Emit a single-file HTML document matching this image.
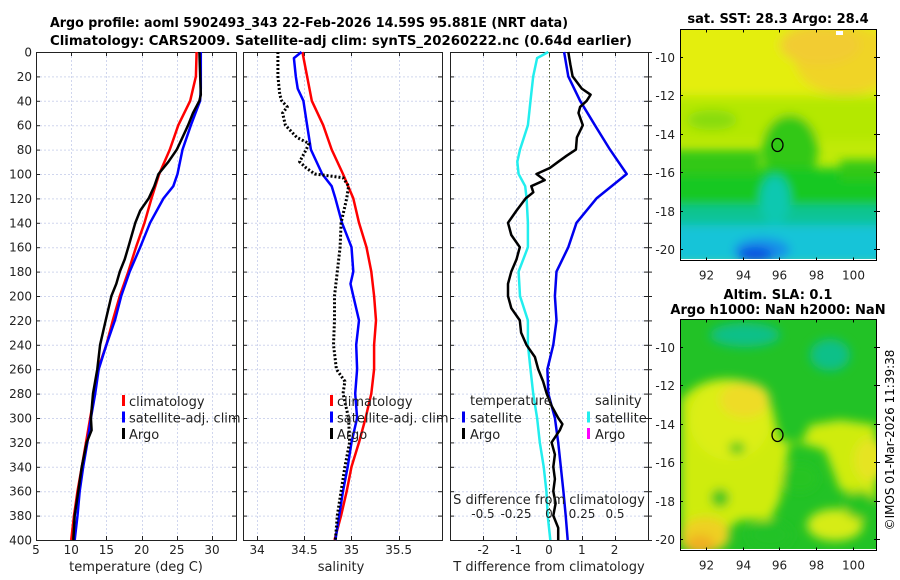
<!DOCTYPE html>
<html><head><meta charset="utf-8">
<style>
html,body{margin:0;padding:0;background:#fff;}
svg{display:block;font-family:"DejaVu Sans","Liberation Sans",sans-serif;}
</style></head>
<body>
<svg id="fig" width="900" height="580" viewBox="0 0 900 580" xmlns="http://www.w3.org/2000/svg">
<defs>
  <filter id="blur1" x="-20%" y="-20%" width="140%" height="140%"><feGaussianBlur stdDeviation="5"/></filter>
  <filter id="blur2" x="-20%" y="-20%" width="140%" height="140%"><feGaussianBlur stdDeviation="5"/></filter>
  <clipPath id="clipMap1"><rect x="681" y="30" width="195" height="229"/></clipPath>
  <clipPath id="clipMap2"><rect x="681" y="320" width="195" height="229"/></clipPath>
</defs>
<text x="50" y="27" font-size="13" font-weight="bold" textLength="518" lengthAdjust="spacingAndGlyphs">Argo profile: aoml 5902493_343 22-Feb-2026 14.59S 95.881E (NRT data)</text>
<text x="50" y="45" font-size="13" font-weight="bold" textLength="582" lengthAdjust="spacingAndGlyphs">Climatology: CARS2009. Satellite-adj clim: synTS_20260222.nc (0.64d earlier)</text>

<!-- Map 1 -->
<g>
  <text x="778" y="23" font-size="13" font-weight="bold" text-anchor="middle">sat. SST: 28.3 Argo: 28.4</text>
  <g clip-path="url(#clipMap1)">
    <rect x="681" y="30" width="195" height="229" fill="#c0ea08"/>
    <g filter="url(#blur2)">
      <rect x="670" y="20" width="220" height="75" fill="#e4ee10"/>
      <ellipse cx="845" cy="60" rx="50" ry="35" fill="#f0d428"/>
      <ellipse cx="820" cy="45" rx="40" ry="20" fill="#f2cc30"/>
      <rect x="670" y="100" width="220" height="40" fill="#b4e806"/>
      <ellipse cx="712" cy="120" rx="25" ry="10" fill="#88dc10"/>
      <ellipse cx="790" cy="150" rx="28" ry="35" fill="#30c818"/>
      <rect x="670" y="168" width="220" height="42" fill="#14c820"/>
      <rect x="670" y="150" width="90" height="25" fill="#30c818"/>
      <rect x="840" y="160" width="50" height="20" fill="#30c818"/>
      <rect x="670" y="205" width="220" height="25" fill="#10c494"/>
      <rect x="670" y="225" width="220" height="40" fill="#18c4d8"/>
      <ellipse cx="775" cy="200" rx="15" ry="25" fill="#10c8b0"/>
      <ellipse cx="762" cy="250" rx="28" ry="12" fill="#1890e8"/>
      <ellipse cx="755" cy="255" rx="18" ry="8" fill="#1050e0"/>
    </g>
    <rect x="836" y="31" width="7" height="4" fill="#fff"/>
  </g>
  <rect x="680.5" y="29.5" width="196" height="231" fill="none" stroke="#000" stroke-width="1"/>
  <ellipse cx="777.5" cy="145" rx="5.5" ry="6.5" fill="none" stroke="#000" stroke-width="1.3"/>
  <g id="map1ticks"></g>
</g>

<!-- Map 2 -->
<g>
  <text x="778" y="299" font-size="13" font-weight="bold" text-anchor="middle">Altim. SLA: 0.1</text>
  <text x="778" y="314" font-size="13" font-weight="bold" text-anchor="middle">Argo h1000: NaN h2000: NaN</text>
  <g clip-path="url(#clipMap2)">
    <rect x="681" y="320" width="195" height="229" fill="#22c226"/>
    <g filter="url(#blur1)">
      <ellipse cx="745" cy="335" rx="35" ry="12" fill="#10c088"/>
      <ellipse cx="830" cy="355" rx="20" ry="16" fill="#10c088"/>
      <path d="M681,400 Q700,375 740,380 Q770,385 775,420 L780,440 L800,445 L810,425 L840,420 L876,425 L876,500 L840,490 L825,450 L790,440 L780,500 L770,520 L740,520 L720,535 L700,549 L681,549 Z" fill="#cfec10"/>
      <ellipse cx="730" cy="420" rx="40" ry="40" fill="#dcee18"/>
      <ellipse cx="745" cy="400" rx="25" ry="18" fill="#eedc28"/>
      <ellipse cx="870" cy="460" rx="16" ry="22" fill="#e6e424"/>
      <ellipse cx="835" cy="525" rx="28" ry="16" fill="#d6ec18"/>
      <ellipse cx="705" cy="535" rx="25" ry="18" fill="#eed020"/>
      <ellipse cx="700" cy="545" rx="15" ry="10" fill="#f0b020"/>
      <ellipse cx="737" cy="448" rx="8" ry="6" fill="#40c820"/>
      <ellipse cx="720" cy="498" rx="9" ry="9" fill="#30c422"/>
      <ellipse cx="800" cy="478" rx="18" ry="14" fill="#28c424"/>
      <ellipse cx="770" cy="535" rx="22" ry="14" fill="#22c226"/>
      <ellipse cx="860" cy="505" rx="16" ry="14" fill="#28c424"/>
    </g>
  </g>
  <rect x="680.5" y="319.5" width="196" height="231" fill="none" stroke="#000" stroke-width="1"/>
  <ellipse cx="777.5" cy="435" rx="5.5" ry="6.5" fill="none" stroke="#000" stroke-width="1.3"/>
  <g id="map2ticks"></g>
</g>
<text x="0" y="0" font-size="12" text-anchor="middle" transform="translate(894,440) rotate(-90)">©IMOS 01-Mar-2026 11:39:38</text>

<g id="panels"></g>
</svg>
<script>
// ---- data ----
var depthTicks = [0,20,40,60,80,100,120,140,160,180,200,220,240,260,280,300,320,340,360,380,400];
var tempTicks = [5,10,15,20,25,30];
var salTicks = [34,34.5,35,35.5];
var salTickLabels = ["34","34.5","35","35.5"];
var tdiffTicks = [-2,-1,0,1,2];
var sdiffTicks = [-0.5,-0.25,0,0.25,0.5];
var sdiffTickLabels = ["-0.5","-0.25","0","0.25","0.5"];
var lonTicks = [92,94,96,98,100];
var latTicks = [-10,-12,-14,-16,-18,-20];

var stdDepth = [0,20,40,60,80,100,120,140,160,180,200,220,240,260,280,300,320,340,360,380,400];
var tempClim = [27.8,27.7,26.9,25.2,24.0,22.5,21.4,20.4,19.2,18.1,16.9,15.9,15.0,13.8,13.3,12.7,12.1,11.5,10.9,10.4,10.0];
var tempSatDepth = [0,30,40,60,80,100,110,120,140,160,180,200,220,240,260,280,300,320,340,360,380,400];
var tempSat = [28.4,28.4,28.3,27.0,25.8,25.1,24.5,23.1,21.2,19.8,18.3,17.1,16.2,15.0,13.9,13.4,12.8,12.3,11.7,11.2,10.9,10.5];
var argoTDepth = [0,35,40,50,60,70,80,90,100,110,120,130,140,150,160,170,180,190,200,220,240,260,280,300,310,320,340,360,380,400];
var argoT = [28.2,28.4,28.2,27.3,26.6,25.8,25.0,23.8,22.4,21.8,21.0,19.8,19.1,18.6,18.1,17.6,16.9,16.4,15.7,14.9,14.1,13.7,13.1,12.8,12.9,12.2,11.5,11.0,10.5,10.3];

var salClim = [34.48,34.53,34.58,34.70,34.79,34.91,35.02,35.08,35.16,35.21,35.24,35.26,35.24,35.24,35.21,35.15,35.08,35.00,34.95,34.89,34.82];
var salSatDepth = [0,5,20,30,40,60,80,100,110,120,140,160,180,190,200,220,240,260,280,300,320,340,360,380,400];
var salSat = [34.47,34.39,34.41,34.43,34.49,34.53,34.57,34.69,34.79,34.83,34.90,35.00,35.02,34.99,35.02,35.08,35.05,35.06,35.04,35.06,35.00,34.96,34.91,34.87,34.83];
var argoSDepth = [0,20,35,40,45,50,60,70,75,80,90,95,100,103,110,120,140,160,180,200,220,240,260,270,280,300,320,340,360,380,400];
var argoS = [34.22,34.22,34.24,34.26,34.32,34.27,34.30,34.42,34.55,34.52,34.45,34.52,34.61,34.91,34.97,34.95,34.89,34.88,34.85,34.82,34.82,34.81,34.84,34.93,34.91,34.97,34.98,34.93,34.89,34.85,34.83];

var tdiffSat = [0.46,0.59,0.95,1.40,1.86,2.37,1.45,0.84,0.59,0.23,0.18,0.23,0.13,-0.05,-0.02,0.18,0.28,0.36,0.44,0.51,0.57];
var tdiffArgoDepth = [0,10,20,30,35,40,45,50,60,70,80,85,90,95,100,105,110,115,120,130,140,150,160,170,180,190,200,210,220,230,240,250,260,270,280,290,300,305,310,320,330,340,350,360,370,380,390,400];
var tdiffArgo = [0.59,0.65,0.72,1.0,1.27,1.15,0.95,0.9,1.03,0.85,0.82,0.54,0.28,0.03,-0.38,-0.13,-0.54,-0.48,-0.71,-0.99,-1.25,-1.15,-0.89,-0.99,-1.15,-1.25,-1.25,-1.15,-0.89,-0.85,-0.69,-0.43,-0.33,-0.18,-0.07,0.08,0.28,0.41,0.33,0.08,0.18,0.13,0.18,0.13,0.2,0.13,0.28,0.28];
var sdiffSatDepth = [0,5,20,40,60,80,90,100,110,120,140,160,180,200,220,240,260,280,300,320,340,360,380,400];
var sdiffSat = [-0.005,-0.09,-0.12,-0.14,-0.16,-0.22,-0.24,-0.23,-0.18,-0.17,-0.16,-0.16,-0.23,-0.22,-0.16,-0.16,-0.14,-0.12,-0.09,-0.07,-0.04,-0.02,-0.01,0.01];

// ---- drawing ----
var NS = "http://www.w3.org/2000/svg";
var Y0 = 52, Y1 = 540;
function yD(d){ return Y0 + (d/400)*(Y1-Y0); }
function mk(parent, tag, attrs){
  var e = document.createElementNS(NS, tag);
  for (var k in attrs) e.setAttribute(k, attrs[k]);
  parent.appendChild(e); return e;
}
function txt(parent, x, y, s, anchor, size){
  var t = mk(parent, "text", {x:x, y:y, "font-size":size||12, "text-anchor":anchor||"start", fill:"#222"});
  t.textContent = s; return t;
}
var root = document.getElementById("panels");

function makePanel(name, xL, xR, vmin, vmax){
  var g = mk(root, "g", {});
  
  
  var sx = function(v){ return xL + (v-vmin)/(vmax-vmin)*(xR-xL); };
  return {g:g, sx:sx, xL:xL, xR:xR};
}
function gridAndFrame(p, xticks, leftLabels, rightTicks){
  var grid = mk(p.g, "g", {stroke:"#d0d6ee", "stroke-width":"1", "stroke-dasharray":"2,2"});
  
  
  depthTicks.forEach(function(d){ mk(grid, "line", {x1:p.xL, x2:p.xR, y1:yD(d)+0.5, y2:yD(d)+0.5}); });
  xticks.forEach(function(v){ var x=Math.round(p.sx(v))+0.5; mk(grid, "line", {x1:x, x2:x, y1:Y0, y2:Y1}); });
  var ax = mk(p.g, "g", {stroke:"#222", "stroke-width":"1"});
  
  
  mk(ax, "rect", {x:p.xL+0.5, y:Y0+0.5, width:p.xR-p.xL, height:Y1-Y0, fill:"none"});
  depthTicks.forEach(function(d){
    var y=yD(d)+0.5;
    mk(ax, "line", {x1:p.xL, x2:p.xL+4, y1:y, y2:y});
    mk(ax, "line", {x1:p.xR-4, x2:p.xR, y1:y, y2:y});
    if (rightTicks) mk(ax, "line", {x1:p.xR, x2:p.xR+4, y1:y, y2:y});
  });
  xticks.forEach(function(v){ var x=Math.round(p.sx(v))+0.5; mk(ax, "line", {x1:x, x2:x, y1:Y1-4, y2:Y1}); mk(ax, "line", {x1:x, x2:x, y1:Y0, y2:Y0+4}); });
  if (leftLabels){
    depthTicks.forEach(function(d){
      var t = txt(p.g, p.xL-4, yD(d)+4.5, String(d), "end", 12);
      
      
    });
  }
}
function series(p, vals, depths, color, width, dash, name){
  var pts = vals.map(function(v,i){ return p.sx(v).toFixed(1)+","+yD(depths[i]).toFixed(1); }).join(" ");
  var a = {points:pts, fill:"none", stroke:color, "stroke-width":width, "stroke-linejoin":"round"};
  if (dash) a["stroke-dasharray"] = dash;
  var e = mk(p.g, "polyline", a);
  
  
}
function legend(p, x, entries){
  entries.forEach(function(en, i){
    var y = 401 + i*16.5;
    var m = mk(p.g, "rect", {x:x, y:y-6, width:3, height:11, fill:en[1]});
    
    
    var t = txt(p.g, x+7, y+5, en[0], "start", 13);
    
    
  });
}

// Panel 1: temperature
var p1 = makePanel("temperature-panel", 36, 236, 5, 33.4);
gridAndFrame(p1, tempTicks, true, false);
series(p1, tempClim, stdDepth, "#ff0000", 2.5, null, "temp-climatology-line");
series(p1, tempSat, tempSatDepth, "#0000ff", 2.5, null, "temp-satellite-line");
series(p1, argoT, argoTDepth, "#000", 2.5, null, "temp-argo-line");
tempTicks.forEach(function(v){ var t=txt(p1.g, p1.sx(v), 554, String(v), "middle", 12);   });
var xt1 = txt(p1.g, 136, 571, "temperature (deg C)", "middle", 13);


legend(p1, 122, [["climatology","#ff0000"],["satellite-adj. clim","#0000ff"],["Argo","#000"]]);

// Panel 2: salinity
var p2 = makePanel("salinity-panel", 243, 442, 33.85, 35.96);
gridAndFrame(p2, salTicks, false, false);
series(p2, salClim, stdDepth, "#ff0000", 2.5, null, "sal-climatology-line");
series(p2, salSat, salSatDepth, "#0000ff", 2.5, null, "sal-satellite-line");
series(p2, argoS, argoSDepth, "#000", 3, "2,2", "sal-argo-line");
salTicks.forEach(function(v,i){ var t=txt(p2.g, p2.sx(v), 554, salTickLabels[i], "middle", 12);   });
var xt2 = txt(p2.g, 341, 571, "salinity", "middle", 13);


legend(p2, 330, [["climatology","#ff0000"],["satellite-adj. clim","#0000ff"],["Argo","#000"]]);

// Panel 3: differences
var p3 = makePanel("difference-panel", 450, 648, -3.02, 3.02);
var sxS = function(v){ return 549 + v*132; };
gridAndFrame(p3, tdiffTicks, false, true);
var zl = mk(p3.g, "line", {x1:549.5, x2:549.5, y1:Y0, y2:Y1, stroke:"#4a5a20", "stroke-width":1, "stroke-dasharray":"1.5,2.5"});


(function(){
  var pts = sdiffSat.map(function(v,i){ return sxS(v).toFixed(1)+","+yD(sdiffSatDepth[i]).toFixed(1); }).join(" ");
  var e = mk(p3.g, "polyline", {points:pts, fill:"none", stroke:"#22eeee", "stroke-width":2.5});
  
  
})();
series(p3, tdiffSat, stdDepth, "#0000ee", 2.5, null, "tdiff-satellite-line");
series(p3, tdiffArgo, tdiffArgoDepth, "#000", 2.5, null, "tdiff-argo-line");
tdiffTicks.forEach(function(v){ var t=txt(p3.g, p3.sx(v), 554, String(v), "middle", 12);   });
var xt3 = txt(p3.g, 549, 571, "T difference from climatology", "middle", 13);


var st = txt(p3.g, 549, 504, "S difference from climatology", "middle", 13);


sdiffTicks.forEach(function(v,i){ var t=txt(p3.g, sxS(v), 518, sdiffTickLabels[i], "middle", 12);   });
var lh1 = txt(p3.g, 470, 405, "temperature", "start", 13);


var lh2 = txt(p3.g, 595, 405, "salinity", "start", 13);


[["satellite","#0000ee",462,1],["Argo","#000",462,2],["satellite","#22eeee",587,1],["Argo","#ff00ff",587,2]].forEach(function(en){
  var y = 401 + en[3]*16.5;
  var m = mk(p3.g, "rect", {x:en[2], y:y-6, width:3, height:11, fill:en[1]});
  
  
  var t = txt(p3.g, en[2]+8, y+5, en[0], "start", 13);
  
  
});

// Map ticks
function mapTicks(id, top, latTop){
  var g = document.getElementById(id);
  var lx = function(lon){ return 706 + (lon-92)*18.33; };
  var ly = function(lat){ return latTop + (-10-lat)*19.26; };
  var bottom = top + 231;
  lonTicks.forEach(function(v){
    var x = Math.round(lx(v))+0.5;
    mk(g, "line", {x1:x, x2:x, y1:bottom-3, y2:bottom, stroke:"#000"});
    mk(g, "line", {x1:x, x2:x, y1:top, y2:top+3, stroke:"#000"});
    var t = txt(g, x, bottom+19, String(v), "middle", 12);
    
    
  });
  latTicks.forEach(function(v){
    var y = Math.round(ly(v))+0.5;
    mk(g, "line", {x1:680, x2:683, y1:y, y2:y, stroke:"#000"});
    mk(g, "line", {x1:874, x2:880, y1:y, y2:y, stroke:"#000"});
    var t = txt(g, 675, y+4.5, String(v), "end", 12);
    
    
  });
}
mapTicks("map1ticks", 29.5, 56.7);
mapTicks("map2ticks", 319.5, 346.7);
</script>
</body></html>
